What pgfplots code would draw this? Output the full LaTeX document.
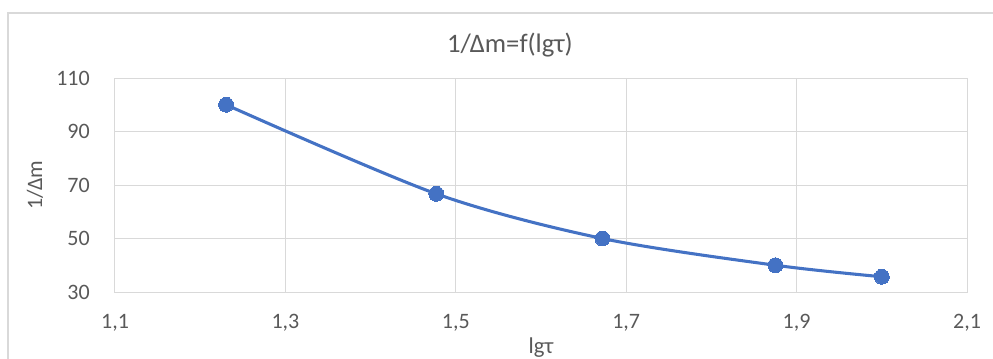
\documentclass[border=0pt]{standalone}
\usepackage{pgfplots}
\pgfplotsset{compat=1.18}
\usepackage{fontspec}
\setmainfont{Carlito}

\definecolor{seriesblue}{HTML}{4472C4}
\definecolor{gridgray}{HTML}{D9D9D9}
\definecolor{framegray}{HTML}{D9D9D9}
\definecolor{textgray}{HTML}{595959}

\begin{document}
\begin{tikzpicture}
% visible page area
\path[use as bounding box] (-86.25pt,-49.5pt) rectangle (658.5pt,219pt);
\clip (-86.25pt,-49.5pt) rectangle (658.5pt,219pt);
% chart frame
\draw[framegray, line width=1.2pt] (-80.25pt,-70pt) rectangle (680pt,209.25pt);

\begin{axis}[
  at={(0pt,0pt)}, anchor=south west,
  scale only axis,
  width=639pt, height=160.5pt,
  xmin=1.1, xmax=2.1,
  ymin=30, ymax=110,
  xtick={1.1,1.3,1.5,1.7,1.9,2.1},
  ytick={30,50,70,90,110},
  grid=major,
  major grid style={gridgray, line width=0.75pt},
  axis line style={gridgray, line width=0.75pt},
  major tick length=0pt,
  /pgf/number format/assume math mode=true,
  tick label style={font=\fontsize{16.5}{18}\selectfont, text=textgray, inner sep=0pt},
  xticklabel style={anchor=center, yshift=-23.25pt,
    /pgf/number format/.cd, fixed, fixed zerofill, precision=1, use comma},
  yticklabel style={anchor=east, xshift=-18.75pt},
  title={1/Δm=f(lgτ)},
  title style={font=\fontsize{20}{24}\selectfont, text=textgray,
    at={(axis description cs:0.4636,1.1168)}, anchor=center},
  xlabel={lgτ},
  xlabel style={font=\fontsize{17}{20}\selectfont, text=textgray,
    at={(axis description cs:0.5,-0.2617)}, anchor=center},
  ylabel={1/Δm},
  ylabel style={font=\fontsize{16.5}{20}\selectfont, text=textgray,
    at={(axis description cs:-0.0939,0.5)}, anchor=center},
]
\addplot[seriesblue, line width=2.3pt, smooth, tension=0.5,
  mark=*, mark size=5.6pt, mark options={fill=seriesblue, draw=seriesblue, line width=0pt}]
  coordinates {
    (1.2304,100)
    (1.4771,66.7)
    (1.6721,50)
    (1.8751,40)
    (2.0000,35.7)
  };
\end{axis}
\end{tikzpicture}
\end{document}
